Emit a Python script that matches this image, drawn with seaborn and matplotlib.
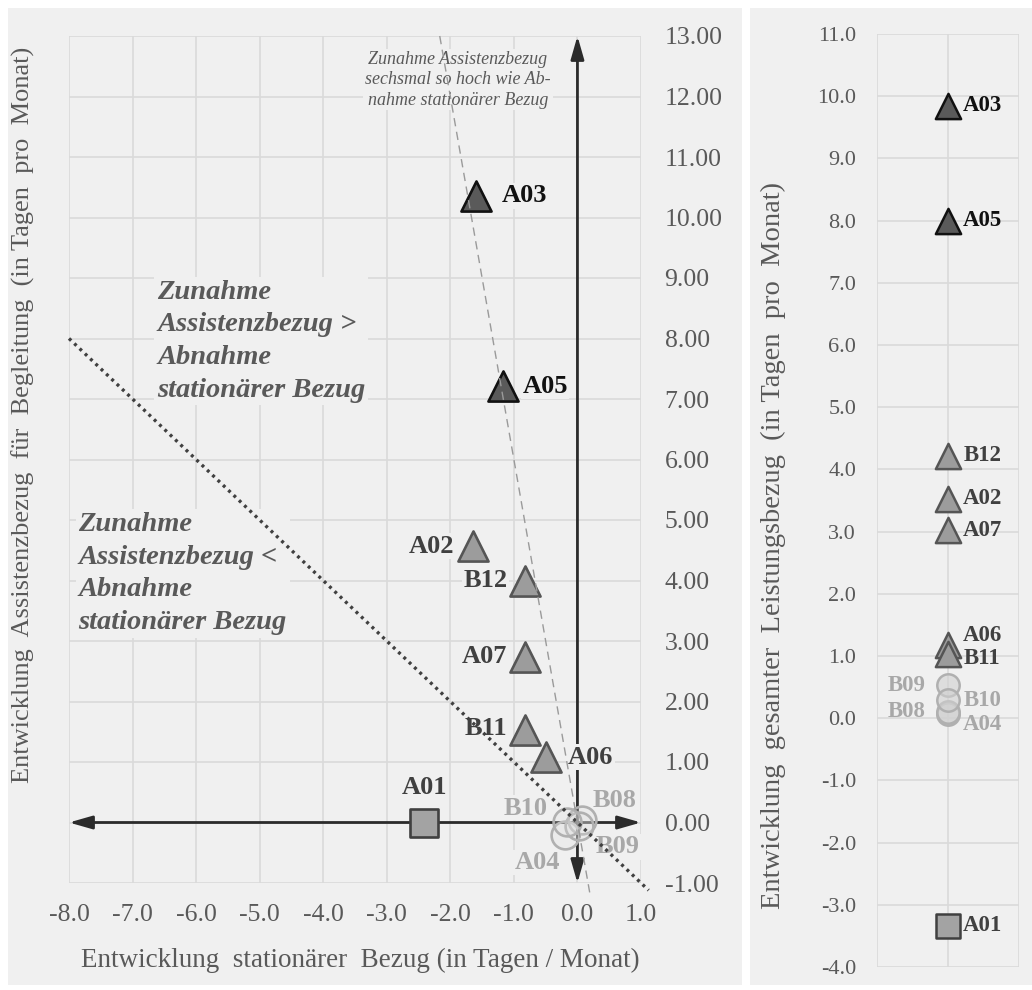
import numpy as np
import matplotlib.pyplot as plt
import pandas as pd
import seaborn as sns
from matplotlib.patches import Rectangle

# Werte
codes = ['A01', 'A02', 'A03', 'A04', 'A05', 'A06', 'A07', 'B08', 'B09', 'B10', 'B11', 'B12']
stationaer = [-2.41, -1.65, -1.59, -0.19, -1.17, -0.50, -0.82, 0.07, 0.02, -0.16, -0.82, -0.82]
assistenz = [0.00, 4.57, 10.36, -0.20, 7.21, 1.08, 2.74, 0.04, -0.06, 0.01, 1.53, 4.00]
gesamt = [-3.34, 3.53, 9.85, 0.07, 8.00, 1.18, 3.02, 0.10, 0.53, 0.29, 1.03, 4.22]
gruppe = ['square', 'mid', 'dark', 'light', 'dark', 'mid', 'mid', 'light', 'light', 'light', 'mid', 'mid']

x_ticks = [-8, -7, -6, -5, -4, -3, -2, -1, 0, 1]
y_ticks = list(range(-1, 14))
y2_ticks = list(range(-4, 12))
slope_dotted = -1   # Zunahme = Abnahme
slope_dashed = -6   # sechsmal so hoch

df = pd.DataFrame({'code': codes, 'x': stationaer, 'y': assistenz,
                   'total': gesamt, 'gruppe': gruppe})
df['pos'] = 0

styles = {
    'dark':   dict(marker='^', fc='#5a5a5a', ec='#111111', tc='#111111', s=470, s2=330),
    'mid':    dict(marker='^', fc='#9c9c9c', ec='#555555', tc='#404040', s=470, s2=330),
    'square': dict(marker='s', fc='#a3a3a3', ec='#404040', tc='#404040', s=420, s2=300),
    'light':  dict(marker='o', fc=(0.88, 0.88, 0.88, 0.25), ec='#b0b0b0', tc='#a8a8a8', s=400, s2=260),
}

# Label-Versatz (Punkte) im Hauptdiagramm / rechten Diagramm
lab_main = {'A02': (-13, 0, 'right'), 'A03': (18, 0, 'left'),
            'A04': (-4, -20, 'right'), 'A05': (14, 0, 'left'), 'A06': (16, 0, 'left'),
            'A07': (-13, 0, 'right'), 'B08': (8, 14, 'left'), 'B09': (12, -15, 'left'),
            'B10': (-14, 10, 'right'), 'B11': (-13, 1, 'right'), 'B12': (-13, 0, 'right')}
lab_right = {'A01': (11, 0, 'left'), 'A02': (11, 0, 'left'), 'A03': (11, 0, 'left'),
             'A04': (11, -8, 'left'), 'A05': (11, 0, 'left'), 'A06': (11, 7, 'left'),
             'A07': (11, 0, 'left'), 'B08': (-16, 0, 'right'), 'B09': (-16, 0, 'right'),
             'B10': (11, 0, 'left'), 'B11': (11, -3, 'left'), 'B12': (11, 0, 'left')}

sns.set_theme(style='white')
plt.rcParams['font.family'] = ['Liberation Serif', 'DejaVu Serif']
bg = '#f0f0f0'
grid_c = '#dadada'
txt_c = '#595959'

fig = plt.figure(figsize=(10.32, 9.9), dpi=100)
fig.patch.set_facecolor('white')
fig.patches.append(Rectangle((8/1032, 5/990), 734/1032, 977/990, transform=fig.transFigure,
                             facecolor=bg, edgecolor='none', zorder=-5))
fig.patches.append(Rectangle((750/1032, 5/990), 282/1032, 977/990, transform=fig.transFigure,
                             facecolor=bg, edgecolor='none', zorder=-5))

ax = fig.add_axes([69/1032, 1 - 883/990, 572/1032, 847/990])
ax2 = fig.add_axes([877/1032, 1 - 967/990, 142/1032, 933/990])

# ---------------- Hauptdiagramm ----------------
ax.set_facecolor('none')
for g, st in styles.items():
    sub = df[df.gruppe == g]
    sns.scatterplot(data=sub, x='x', y='y', marker=st['marker'], s=st['s'], color=st['fc'],
                    edgecolor=st['ec'], linewidth=1.9, ax=ax, zorder=4, legend=False)

for _, r in df.iterrows():
    if r.code not in lab_main:
        continue
    dx, dy, ha = lab_main[r.code]
    ax.annotate(r.code, (r.x, r.y), xytext=(dx, dy), textcoords='offset points', ha=ha,
                va='center', fontsize=19, fontweight='bold', color=styles[r.gruppe]['tc'],
                zorder=3, bbox=dict(boxstyle='square,pad=0.05', fc=bg, ec='none'))
r = df[df.code == 'A01'].iloc[0]
ax.annotate('A01', (r.x, r.y), xytext=(0, 17), textcoords='offset points', ha='center',
            va='bottom', fontsize=19, fontweight='bold', color='#404040', zorder=3)

# Achsenpfeile
arrow = dict(arrowstyle='<|-|>,head_length=0.7,head_width=0.2', color='#2b2b2b', lw=2,
             shrinkA=0, shrinkB=0, mutation_scale=20)
ax.annotate('', xy=(x_ticks[-1], 0), xytext=(x_ticks[0], 0), arrowprops=arrow, zorder=2)
ax.annotate('', xy=(0, y_ticks[-1]), xytext=(0, y_ticks[0]), arrowprops=arrow, zorder=2)

# Referenzlinien
xd = np.array([x_ticks[0], 1.12])
ax.plot(xd, slope_dotted * xd, ls=(0, (0.9, 1.3)), lw=2.4, color='#404040', zorder=5, clip_on=False)
xs = np.array([y_ticks[-1] / slope_dashed, 0.2])
ax.plot(xs, slope_dashed * xs, ls=(0, (6, 4)), lw=1.0, color='#9a9a9a', zorder=5, clip_on=False)

ax.text(-1.88, 12.75, 'Zunahme Assistenzbezug\nsechsmal so hoch wie Ab-\nnahme stationärer Bezug',
        ha='center', va='top', ma='center', fontsize=13, style='italic', color=txt_c,
        linespacing=1.25, zorder=3, bbox=dict(boxstyle='square,pad=0.1', fc=bg, ec='none'))
ax.text(-6.61, 8.97, 'Zunahme\nAssistenzbezug >\nAbnahme\nstationärer Bezug',
        ha='left', va='top', fontsize=20.5, style='italic', fontweight='bold', color=txt_c,
        linespacing=1.4, zorder=3, bbox=dict(boxstyle='square,pad=0.1', fc=bg, ec='none'))
ax.text(-7.85, 5.13, 'Zunahme\nAssistenzbezug <\nAbnahme\nstationärer Bezug',
        ha='left', va='top', fontsize=20.5, style='italic', fontweight='bold', color=txt_c,
        linespacing=1.4, zorder=3, bbox=dict(boxstyle='square,pad=0.1', fc=bg, ec='none'))

ax.set_xlim(x_ticks[0], x_ticks[-1])
ax.set_ylim(y_ticks[0], y_ticks[-1])
ax.set_xticks(x_ticks)
ax.set_yticks(y_ticks)
ax.set_xticklabels([f'{v:.1f}' for v in x_ticks])
ax.set_yticklabels([f'{v:.2f}' for v in y_ticks])
ax.yaxis.tick_right()
ax.yaxis.set_label_position('left')
ax.grid(True, color=grid_c, lw=1.2)
ax.set_axisbelow(True)
for sp in ax.spines.values():
    sp.set_visible(False)
ax.tick_params(axis='both', length=0, labelsize=18.5, colors=txt_c)
ax.tick_params(axis='x', pad=15)
ax.tick_params(axis='y', pad=17)
ax.set_xlabel('Entwicklung  stationärer  Bezug (in Tagen / Monat)', fontsize=19.5, color=txt_c)
ax.set_ylabel('Entwicklung  Assistenzbezug  für  Begleitung  (in Tagen  pro  Monat)', fontsize=19, color=txt_c)
ax.xaxis.set_label_coords(0.509, -0.076)
ax.yaxis.set_label_coords(-0.06, 0.553)

# ---------------- Gesamtentwicklung ----------------
ax2.set_facecolor('none')
for g, st in styles.items():
    sub = df[df.gruppe == g]
    fc = st['fc'] if g != 'light' else (0.82, 0.82, 0.82, 0.6)
    sns.scatterplot(data=sub, x='pos', y='total', marker=st['marker'], s=st['s2'], color=fc,
                    edgecolor=st['ec'], linewidth=1.8, ax=ax2, zorder=4, legend=False)
for _, r in df.iterrows():
    dx, dy, ha = lab_right[r.code]
    ax2.annotate(r.code, (r.pos, r.total), xytext=(dx, dy), textcoords='offset points', ha=ha,
                 va='center', fontsize=16.5, fontweight='bold', color=styles[r.gruppe]['tc'], zorder=3)

ax2.set_xlim(-1, 1)
ax2.set_ylim(y2_ticks[0], y2_ticks[-1])
ax2.set_xticks([-1, 0, 1])
ax2.set_xticklabels([])
ax2.set_yticks(y2_ticks)
ax2.set_yticklabels([f'{v:.1f}' for v in y2_ticks])
ax2.grid(True, color=grid_c, lw=1.2)
ax2.set_axisbelow(True)
for sp in ax2.spines.values():
    sp.set_visible(False)
ax2.tick_params(axis='both', length=0, labelsize=16, colors=txt_c)
ax2.tick_params(axis='y', pad=15)
ax2.set_xlabel('')
ax2.set_ylabel('Entwicklung  gesamter  Leistungsbezug  (in Tagen  pro  Monat)', fontsize=20.5, color=txt_c)
ax2.yaxis.set_label_coords(-0.64, 0.452)

fig.savefig('out.png', dpi=100)
